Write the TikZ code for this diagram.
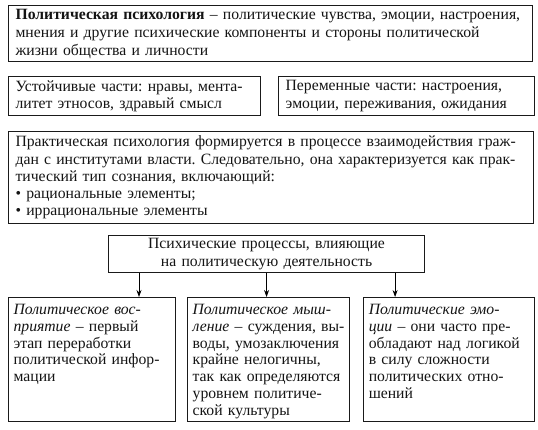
\documentclass[tikz,border=0pt]{standalone}
\usepackage{fontspec}
\setmainfont{Liberation Serif}
\usetikzlibrary{arrows.meta,positioning}
\definecolor{boxline}{HTML}{1A1A1A}
\definecolor{bodytext}{HTML}{141414}
\frenchspacing

\begin{document}
\begin{tikzpicture}[x=1pt,y=-1pt,
      >={Stealth[length=7pt,width=5pt]},
      node distance=11pt,
      box/.style={draw=boxline,line width=1.1pt,anchor=north west,align=left,
        inner xsep=7pt,inner ysep=0pt,text=bodytext,
        font=\fontsize{15.7}{17.3}\selectfont},
      topbox/.style={box,text height=11pt,inner ysep=6pt,inner xsep=5pt,
        font=\fontsize{15.7}{16.8}\selectfont}]
    \useasboundingbox (0,0) rectangle (538,430);
    % definition
    \node[box,text width=510pt,minimum height=56pt,
      font=\fontsize{15.7}{18}\selectfont] (def) at (8,5)
      {\textbf{Политическая психология} – политические чувства, эмоции, настроения,\\
       мнения и другие психические компоненты и стороны политической\\
       жизни общества и личности};
    % two parts
    \node[box,text width=238pt,minimum height=39pt] (stable) at (8,76)
      {Устойчивые части: нравы, мента-\\ литет этносов, здравый смысл};
    \node[box,text width=242pt,minimum height=39pt,right=17pt of stable] (var)
      {Переменные части: настроения,\\ эмоции, переживания, ожидания};
    % practical psychology
    \node[box,text width=511pt,minimum height=92pt] (prac) at (8,131)
      {Практическая психология формируется в процессе взаимодействия граж-\\
       дан с институтами власти. Следовательно, она характеризуется как прак-\\
       тический тип сознания, включающий:\\
       \textbullet{} рациональные элементы;\\
       \textbullet{} иррациональные элементы};
    \node[box,align=center,text width=302pt,minimum height=37pt] (proc) at (108,235)
      {Психические процессы, влияющие\\ на политическую деятельность};
    % processes
    \node[topbox,text width=157pt,text depth=101pt] (perc) at (8,297)
      {\textit{Политическое вос-}\\ \textit{приятие} – первый\\ этап переработки\\
       политической инфор-\\ мации};
    \node[topbox,text width=152pt,text depth=101pt,right=11pt of perc] (think)
      {\textit{Политическое мыш-}\\ \textit{ление} – суждения, вы-\\ воды, умозаключения\\
       крайне нелогичны,\\ так как определяются\\ уровнем политиче-\\ ской культуры};
    \node[topbox,text width=161pt,text depth=101pt,right=13pt of think] (emo)
      {\textit{Политические эмо-}\\ \textit{ции} – они часто пре-\\ обладают над логикой\\
       в силу сложности\\ политических отно-\\ шений};
    \draw[->,thick] ([xshift=31pt]proc.south west) -- ([xshift=31pt]proc.south west |- perc.north);
    \draw[->,thick] (proc.south) -- (proc.south |- think.north);
    \draw[->,thick] ([xshift=-30pt]proc.south east) -- ([xshift=-30pt]proc.south east |- emo.north);
  \end{tikzpicture}
\end{document}
